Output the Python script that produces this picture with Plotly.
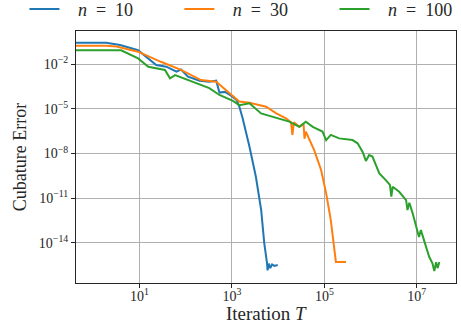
import plotly.graph_objects as go

# ---- data ----
t_n10 = [0.42, 1.9, 3.8, 9.3, 23, 38, 63, 79, 112, 200, 324, 457, 537, 708, 955, 1260,
         1450, 1700, 2400, 3300, 4300, 5000, 5750, 5900, 6300, 6760, 7400, 8300, 9800]
err_n10 = [0.28, 0.28, 0.2, 0.089, 8.9e-3, 6.9e-3, 3.2e-3, 4.5e-3, 1.5e-3, 7.9e-4, 6.8e-4,
           7.9e-4, 1.26e-4, 1.4e-4, 7.9e-5, 4.0e-5, 1.4e-5, 2.5e-6, 2.9e-8, 2.75e-10,
           1.6e-12, 1e-14, 4.3e-16, 1.4e-16, 4e-16, 2e-16, 3.5e-16, 2.8e-16, 3.2e-16]

t_n30 = [0.42, 1.9, 3.16, 9.3, 29, 79, 214, 324, 457, 891, 1445, 2400, 5500, 9120, 14800,
         19000, 20400, 21900, 28800, 35500, 37200, 39800, 60300, 85100, 109600, 138000,
         166000, 178000, 295000]
err_n30 = [0.178, 0.178, 0.158, 0.071, 0.0148, 4.2e-3, 8.7e-4, 7.9e-4, 6.8e-4, 1.12e-4,
           3.2e-5, 2.6e-5, 1.4e-5, 5e-6, 2.3e-6, 1.26e-6, 1.8e-7, 1.26e-6, 6.3e-7, 1e-6,
           1e-7, 3e-7, 1.7e-8, 7.9e-10, 2.1e-11, 3.4e-13, 5.4e-15, 5.2e-16, 5.2e-16]

t_n100 = [0.42, 4.0, 9.3, 15.5, 35.5, 45.7, 58.9, 141, 324, 537, 1050, 1450, 2400, 4270,
          5500, 12600, 17400, 28800, 39800, 56200, 91200, 109600, 138000, 209000, 407000,
          525000, 676000, 794000, 933000, 1.1e6, 1.55e6, 2.14e6, 2.63e6, 2.82e6, 3.02e6,
          4.17e6, 5.89e6, 6.31e6, 6.92e6, 8.13e6, 1.05e7, 1.12e7, 1.23e7, 1.58e7, 1.86e7,
          2.19e7, 2.4e7, 2.63e7, 2.82e7, 3.09e7]
err_n100 = [0.087, 0.087, 0.025, 6.9e-3, 4.2e-3, 1.15e-3, 1.9e-3, 6.8e-4, 2.5e-4, 8.7e-5,
            3.5e-5, 1.8e-5, 2.4e-5, 5e-6, 3.9e-6, 1.8e-6, 1.4e-6, 6.3e-7, 1.4e-6, 6.3e-7,
            3e-7, 8.1e-8, 1.8e-7, 1.05e-7, 8.1e-8, 4.9e-8, 1.3e-8, 3.2e-9, 7.9e-9, 6.3e-9,
            4.7e-10, 1.66e-10, 7.9e-11, 1.26e-11, 5.9e-11, 2.7e-11, 7.4e-12, 1.6e-12, 5e-12,
            1e-12, 7.2e-14, 2.5e-14, 7.2e-14, 5.4e-15, 1.15e-15, 4.2e-16, 1.26e-16, 5e-16,
            2e-16, 5.2e-16]

series_names = ["<i>n</i>\u2002=\u200210", "<i>n</i>\u2002=\u200230", "<i>n</i>\u2002=\u2002100"]
series_colors = ["#1f77b4", "#ff7f0e", "#2ca02c"]

x_tickvals = [1e1, 1e3, 1e5, 1e7]
x_ticktext = ["10<sup>1</sup>", "10<sup>3</sup>", "10<sup>5</sup>", "10<sup>7</sup>"]
y_tickvals = [1e-2, 1e-5, 1e-8, 1e-11, 1e-14]
y_ticktext = ["10<sup>−2</sup>", "10<sup>−5</sup>", "10<sup>−8</sup>",
              "10<sup>−11</sup>", "10<sup>−14</sup>"]

x_title = "Iteration <i>T</i>"
y_title = "Cubature Error"

FONT = "Liberation Serif"
TXT = "#262626"

legend_ids = ["legend", "legend2", "legend3"]
legend_x = [0.053, 0.389, 0.7256]

fig = go.Figure()
for t, e, name, col, lid in zip([t_n10, t_n30, t_n100], [err_n10, err_n30, err_n100],
                                series_names, series_colors, legend_ids):
    fig.add_trace(go.Scatter(x=t, y=e, mode="lines", name="\u00a0\u00a0\u00a0" + name,
                             line=dict(color=col, width=2), legend=lid))

axis_common = dict(
    type="log", showline=True, mirror=True, linecolor=TXT, linewidth=1,
    showgrid=True, gridcolor="#b0b0b0", gridwidth=0.8, zeroline=False,
    ticks="outside", ticklen=4, tickcolor=TXT, tickwidth=1,
    tickfont=dict(family=FONT, size=14, color=TXT),
    automargin=False,
)

fig.update_xaxes(**axis_common, range=[-0.375, 7.85], tickmode="array",
                 tickvals=x_tickvals, ticktext=x_ticktext, ticklabelstandoff=-4)
fig.update_yaxes(**axis_common, range=[-16.7, 0.24], tickmode="array",
                 tickvals=y_tickvals, ticktext=y_ticktext)

fig.add_annotation(text=x_title, xref="paper", yref="paper", x=0.5, y=-0.12,
                   xanchor="center", yanchor="middle", showarrow=False,
                   font=dict(family=FONT, size=19, color=TXT))
fig.add_annotation(text=y_title, xref="paper", yref="paper", x=-0.147, y=0.5,
                   xanchor="center", yanchor="middle", textangle=-90, showarrow=False,
                   font=dict(family=FONT, size=18, color=TXT))

legend_style = dict(orientation="h", xref="container", yref="paper",
                    xanchor="left", y=1.16, yanchor="top",
                    font=dict(family=FONT, size=18, color=TXT),
                    bgcolor="rgba(0,0,0,0)")

fig.update_layout(
    width=461, height=332,
    margin=dict(l=76, r=5, t=31, b=49, autoexpand=False),
    paper_bgcolor="white", plot_bgcolor="white",
    showlegend=True,
    legend=dict(**legend_style, x=legend_x[0]),
    legend2=dict(**legend_style, x=legend_x[1]),
    legend3=dict(**legend_style, x=legend_x[2]),
)

fig.write_html("out.html", config={"displayModeBar": False},
               post_script="document.body.style.margin='0px';")
